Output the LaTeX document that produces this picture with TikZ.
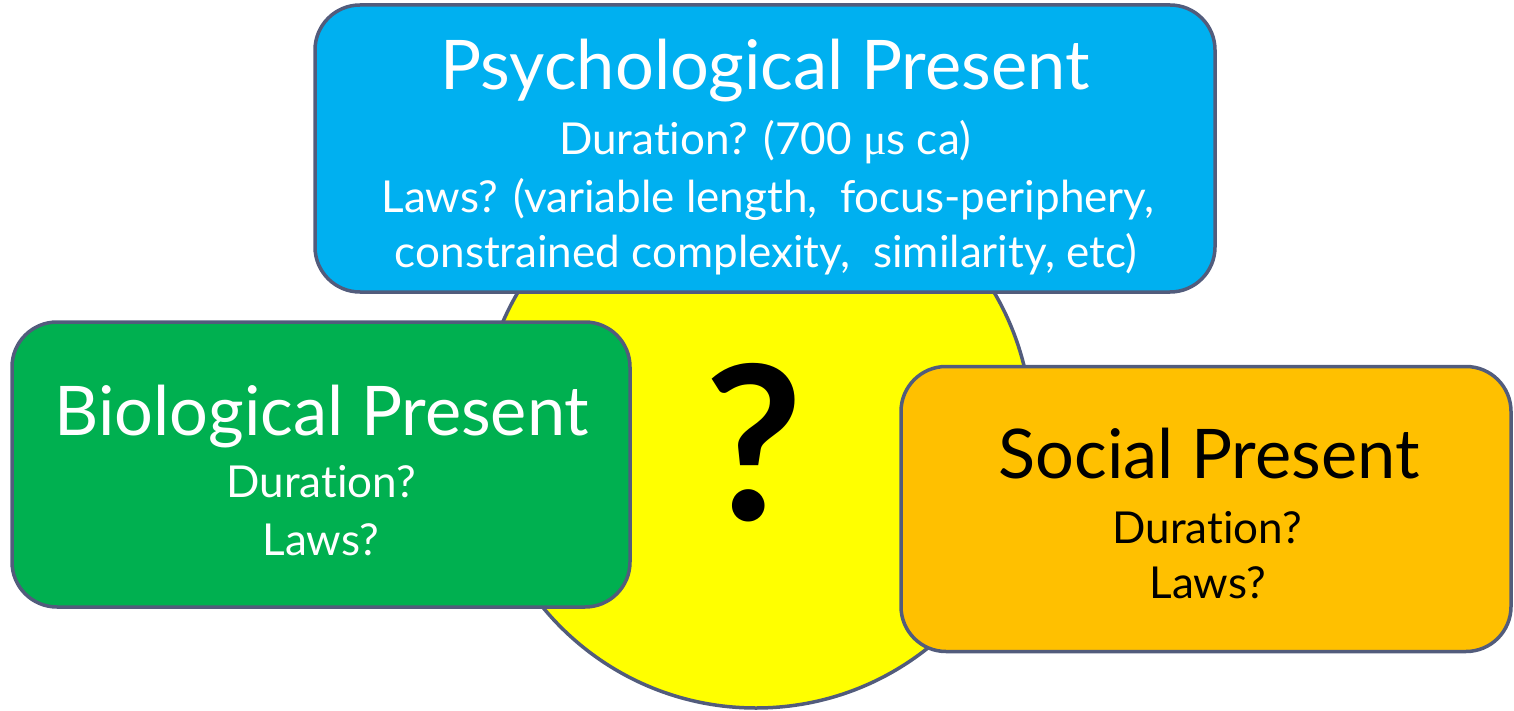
\documentclass[tikz,border=0pt]{standalone}
\usepackage{fontspec}
\setmainfont{Lato}[Ligatures=NoCommon]
\newfontfamily\mufont{Liberation Serif}

\definecolor{psyblue}{RGB}{0,176,240}
\definecolor{biogreen}{RGB}{0,176,80}
\definecolor{socorange}{RGB}{255,192,0}
\definecolor{discyellow}{RGB}{255,255,0}
\definecolor{edgegray}{RGB}{82,92,124}

\tikzset{
  presentbox/.style={draw=edgegray, line width=3.5pt, rounded corners=45pt, inner sep=0pt},
  headline/.style={anchor=base, font=\fontsize{68.5}{68.5}\selectfont},
  subline/.style={anchor=base, font=\fontsize{44}{44}\selectfont},
}

\begin{document}
\begin{tikzpicture}[x=1pt,y=-1pt]
  \useasboundingbox (0,0) rectangle (1514,711);

  % yellow disc behind the three boxes
  \node[circle, draw=edgegray, line width=3.5pt, fill=discyellow, minimum size=552pt, inner sep=0pt] (disc) at (756,432) {};
  \node[anchor=base, inner sep=0pt, font=\bfseries\fontsize{215}{215}\selectfont] (qmark) at (754,520) {?};

  % psychological present (top)
  \node[presentbox, fill=psyblue, minimum width=900pt, minimum height=287pt] (psych) at (765,148.5) {};
  \node[headline, text=white] (psychtitle) at (765,90) {Psychological Present};
  \node[subline, text=white] (psychdur) at (765,155) {Duration? (700 {\mufont μ}s ca)};
  \node[subline, text=white] (psychlaws) at (768,213) {Laws? (variable length,\ \ focus-periphery,};
  \node[subline, text=white] (psychlawsb) at (766,268) {constrained complexity,\ \ similarity, etc)};

  % biological present (left)
  \node[presentbox, fill=biogreen, minimum width=618pt, minimum height=285pt] (bio) at (321,464.5) {};
  \node[headline, text=white] (biotitle) at (322,435) {Biological Present};
  \node[subline, text=white] (biodur) at (321,497) {Duration?};
  \node[subline, text=white] (biolaws) at (321,555) {Laws?};

  % social present (right)
  \node[presentbox, fill=socorange, minimum width=610pt, minimum height=285pt] (soc) at (1206,509) {};
  \node[headline, text=black] (soctitle) at (1209,478) {Social Present};
  \node[subline, text=black] (socdur) at (1207,543) {Duration?};
  \node[subline, text=black] (soclaws) at (1208,598) {Laws?};
\end{tikzpicture}
\end{document}
